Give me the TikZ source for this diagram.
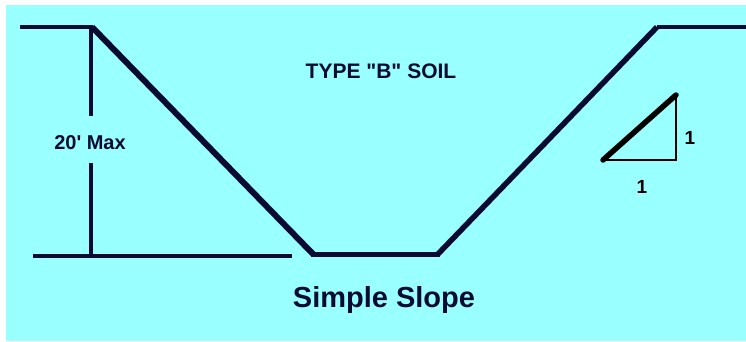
\documentclass[tikz,border=0pt]{standalone}
\usepackage{fontspec}
\setmainfont{Liberation Sans}[Ligatures=TeXOff]
\definecolor{bgcyan}{RGB}{153,255,255}
\definecolor{navy}{RGB}{10,10,50}
\begin{document}
\begin{tikzpicture}[x=1pt,y=-1pt,
  ground/.style={draw=navy,line width=4.5pt},
  slope/.style={draw=navy,line width=6pt,line join=miter},
  dim/.style={draw=navy,line width=4pt},
  lbl/.style={text=navy,font=\bfseries,inner sep=0pt}]
\useasboundingbox (0,0) rectangle (746,341);
\fill[bgcyan] (6,5) rectangle (746,341);
% key points
\coordinate (tl0) at (20,27);
\coordinate (tl1) at (92,27);
\coordinate (bl) at (313,254);
\coordinate (br) at (438,254);
\coordinate (tr0) at (657,27);
\coordinate (tr1) at (746,27);
\coordinate (gl0) at (33,256);
\coordinate (gl1) at (292,256);
% ground and trench
\draw[ground] (tl0) -- (tl1);
\draw[slope] (tl1) -- (bl);
\draw[draw=navy,line width=5pt,line join=miter] ([xshift=-2pt]bl) -- ([xshift=2pt]br);
\draw[slope,line width=5.5pt] (br) -- (tr0);
\draw[ground] (tr0) -- (tr1);
\draw[ground] (gl0) -- (gl1);
% dimension
\node[lbl,font=\bfseries\fontsize{20}{22}\selectfont] (max) at (90,143) {20' Max};
\coordinate (vt) at (91,25);
\coordinate (vb) at (91,256);
\draw[dim] (vt) -- (91,116);
\draw[dim] (91,163) -- (vb);
% labels
\node[lbl,font=\bfseries\fontsize{21}{24}\selectfont] (soil) at (381,71) {TYPE "B" SOIL};
\node[lbl,font=\bfseries\fontsize{29}{32}\selectfont] (title) at (384,300) {Simple Slope};
% slope triangle
\coordinate (ta) at (603,160);
\coordinate (tb) at (676,160);
\coordinate (tc) at (676,95);
\draw[draw=black,line width=2.5pt,line cap=butt] (ta) -- (tb) -- (tc);
\draw[draw=black,line width=5.5pt,line cap=round] (ta) -- (tc);
\node[lbl,text=black,font=\bfseries\fontsize{19}{21}\selectfont] (one1) at (690,138) {1};
\node[lbl,text=black,font=\bfseries\fontsize{19}{21}\selectfont] (one2) at (642,187) {1};
\end{tikzpicture}
\end{document}
